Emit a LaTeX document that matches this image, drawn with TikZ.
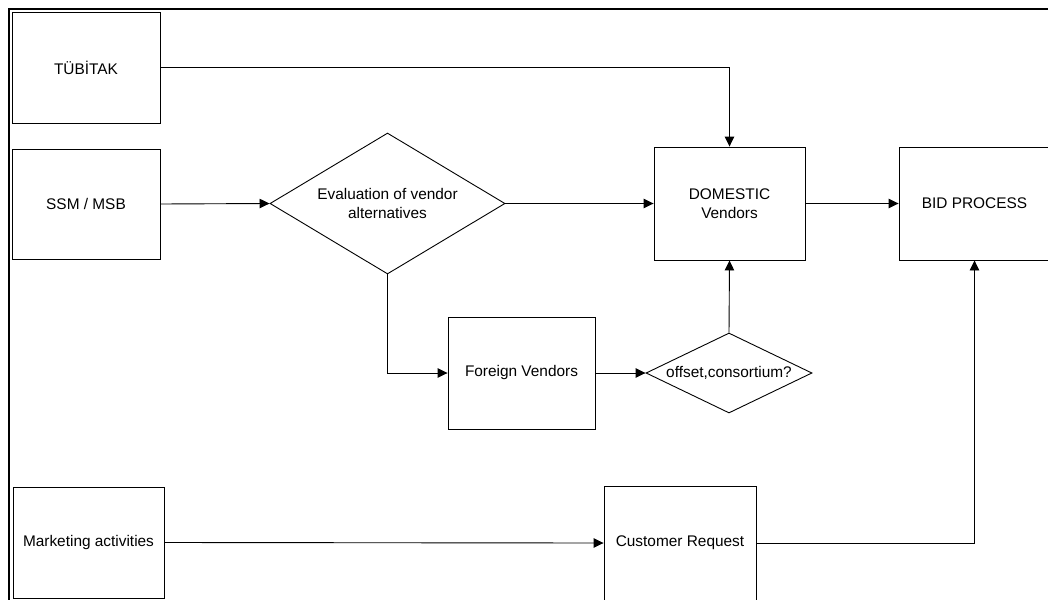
\documentclass[tikz,border=0pt]{standalone}
\usepackage{fontspec}
\setmainfont{Liberation Sans}
\usetikzlibrary{shapes.geometric,arrows.meta}

\tikzset{
  box/.style={draw=black, line width=0.9pt, rectangle, inner sep=0pt, align=center},
  decision/.style={draw=black, line width=0.9pt, diamond, inner sep=0pt, align=center},
  flow/.style={draw=black, line width=0.9pt, -{Triangle[length=10pt,width=9.5pt]}},
  link/.style={draw=black, line width=0.9pt},
  frame/.style={draw=black, line width=2.6pt}
}

\begin{document}
\begin{tikzpicture}[x=1pt, y=-1pt, font=\fontsize{15.4}{19}\selectfont]
  \clip (0,0) rectangle (1048,599);
  \fill[white] (0,0) rectangle (1048,599);

  % page frame (top and left edges)
  \draw[frame] (9,610) -- (9,9) -- (1060,9);

  % sources
  \node[box, minimum width=148pt, minimum height=111pt] (tub) at (86,67.5) {TÜBİTAK};
  \node[box, minimum width=148pt, minimum height=110pt] (ssm) at (86,204) {SSM / MSB};
  \node[box, minimum width=151pt, minimum height=111pt] (mkt) at (88.5,542.5) {Marketing activities};

  % evaluation and vendors
  \node[decision, minimum width=235pt, minimum height=141pt, aspect=1.667] (eval) at (387.5,203.5)
    {Evaluation of vendor\\alternatives};
  \node[box, minimum width=151pt, minimum height=113pt] (dom) at (729.5,203.5) {DOMESTIC\\Vendors};
  \node[box, minimum width=147pt, minimum height=112pt] (for) at (521.5,373) {Foreign Vendors};
  \node[decision, minimum width=166pt, minimum height=80pt, aspect=2.075] (off) at (729,373)
    {offset,consortium?};

  % bidding
  \node[box, minimum width=151pt, minimum height=113pt] (bid) at (974.5,203.5) {BID PROCESS};
  \node[box, minimum width=152pt, minimum height=114pt] (cust) at (680,543) {Customer Request};

  % connectors
  \draw[flow] (tub.east) -| (dom.north);
  \draw[flow] (ssm.east) -- (eval.west);
  \draw[flow] (eval.east) -- (dom.west);
  \draw[flow] (dom.east) -- (bid.west);
  \draw[flow] (eval.south) |- (for.west);
  \draw[flow] (for.east) -- (off.west);
  \draw[flow] (off.north) -- (dom.south);
  \draw[flow] (mkt.east) -- (cust.west);
  \draw[flow] (cust.east) -| (bid.south);
\end{tikzpicture}
\end{document}
